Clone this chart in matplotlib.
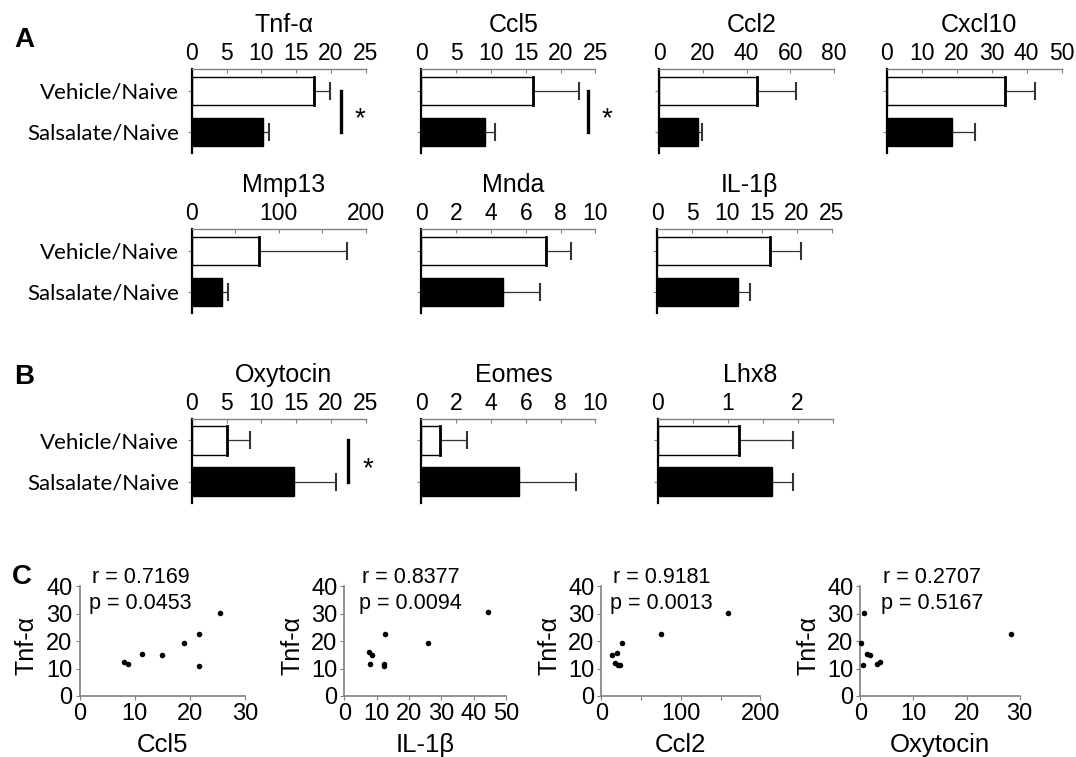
import matplotlib
matplotlib.use("Agg")
import matplotlib.pyplot as plt

# =========================
# DATA
# =========================
GENES = ["Tnf-α", "Ccl5", "Ccl2", "Cxcl10", "Mmp13", "Mnda", "IL-1β",
         "Oxytocin", "Eomes", "Lhx8"]
GROUPS = ["Vehicle/Naive", "Salsalate/Naive"]

VEHICLE_MEAN = [17.5, 16.1, 44.8, 33.9, 77.8, 7.18, 16.2, 5.0, 1.06, 1.16]
VEHICLE_ERR = [2.3, 6.6, 17.7, 8.6, 100.2, 1.43, 4.4, 3.4, 1.54, 0.78]
SALSALATE_MEAN = [10.2, 9.1, 17.7, 18.6, 35.2, 4.68, 11.5, 14.75, 5.63, 1.64]
SALSALATE_ERR = [0.9, 1.5, 2.1, 6.6, 6.9, 2.14, 1.8, 6.05, 3.23, 0.30]

X_MAX = [25, 25, 80, 50, 200, 10, 25, 25, 10, 2.5]
X_MAJOR = [[0, 5, 10, 15, 20, 25], [0, 5, 10, 15, 20, 25], [0, 20, 40, 60, 80],
           [0, 10, 20, 30, 40, 50], [0, 100, 200], [0, 2, 4, 6, 8, 10],
           [0, 5, 10, 15, 20, 25], [0, 5, 10, 15, 20, 25], [0, 2, 4, 6, 8, 10],
           [0, 1, 2]]
X_MINOR = [[], [], [], [], [50, 150], [], [], [], [], [0.5, 1.5, 2.5]]

# significance marks: gene, x of bracket, x of asterisk
SIG_GENES = ["Tnf-α", "Ccl5", "Oxytocin"]
SIG_LINE_X = [21.4, 24.0, 22.5]
SIG_STAR_X = [24.1, 26.7, 25.3]

SCATTER_XLABELS = ["Ccl5", "IL-1β", "Ccl2", "Oxytocin"]
SCATTER_R = ["0.7169", "0.8377", "0.9181", "0.2707"]
SCATTER_P = ["0.0453", "0.0094", "0.0013", "0.5167"]
SCATTER_XMAX = [30, 50, 200, 30]
SCATTER_XTICKS = [[0, 10, 20, 30], [0, 10, 20, 30, 40, 50], [0, 100, 200], [0, 10, 20, 30]]
SCATTER_XMINOR = [[], [], [50, 150], []]

CCL5_X = [25.4, 21.7, 18.9, 11.3, 15.0, 8.1, 8.8, 21.6]
CCL5_TNF = [30.3, 22.7, 19.3, 15.5, 14.9, 12.4, 11.5, 11.0]
IL1B_X = [44.5, 12.7, 25.9, 7.7, 8.5, 12.2, 7.9, 12.2]
IL1B_TNF = [30.5, 22.7, 19.3, 15.9, 15.1, 11.7, 11.6, 11.0]
CCL2_X = [159.7, 74.5, 25.5, 19.9, 13.9, 17.7, 20.8, 22.9]
CCL2_TNF = [30.2, 22.6, 19.3, 15.6, 15.0, 12.1, 11.4, 11.2]
OXY_X = [0.7, 28.4, 0.2, 1.3, 1.75, 3.75, 3.2, 0.45]
OXY_TNF = [30.2, 22.6, 19.3, 15.5, 14.9, 12.4, 11.6, 11.3]

SCATTER_X = [CCL5_X, IL1B_X, CCL2_X, OXY_X]
SCATTER_Y = [CCL5_TNF, IL1B_TNF, CCL2_TNF, OXY_TNF]

# =========================
# LAYOUT (pixel boxes: left, top, width, height)
# =========================
W, H = 1076, 757
plt.rcParams["font.family"] = ["Liberation Sans", "DejaVu Sans"]

BAR_BOXES = [
    (191.7, 69.3, 174, 84), (421.4, 69.3, 174, 84), (659.0, 69.3, 175, 84), (886.6, 69.3, 175, 84),
    (191.7, 229.3, 174, 84), (421.4, 229.3, 174, 84), (657.0, 229.3, 175, 84),
    (191.7, 419.0, 174, 84), (421.4, 419.0, 174, 84), (657.5, 419.0, 175, 84),
]
SCATTER_BOXES = [(79.5, 586.4, 165.5, 109.6), (344.4, 586.4, 161.5, 109.6),
                 (601.3, 586.4, 159.0, 109.6), (860.2, 586.4, 159.5, 109.6)]
SCATTER_TEXT_X = [0.37, 0.41, 0.38, 0.45]

FIG = plt.figure(figsize=(W / 100, H / 100), dpi=100)


def PX_AXES(BOX):
    L, T, BW, BH = BOX
    return FIG.add_axes([L / W, 1 - (T + BH) / H, BW / W, BH / H])


# =========================
# BAR PANELS (A, B)
# =========================
for I, GENE in enumerate(GENES):
    AX = PX_AXES(BAR_BOXES[I])
    VALS = [VEHICLE_MEAN[I], SALSALATE_MEAN[I]]
    ERRS = [VEHICLE_ERR[I], SALSALATE_ERR[I]]
    AX.barh([0, 1], VALS, height=0.69, color=["white", "black"],
            edgecolor="black", linewidth=1.0, zorder=2)
    AX.plot([VALS[0], VALS[0]], [-0.345, 0.345], color="black", lw=2.0, zorder=3)
    AX.errorbar(VALS, [0, 1], xerr=[[0, 0], ERRS], fmt="none", ecolor="#333333",
                elinewidth=0.9, capsize=6.5, capthick=1.5, zorder=1)
    AX.set_xlim(0, X_MAX[I])
    AX.set_ylim(1.52, -0.52)

    AX.xaxis.tick_top()
    AX.set_xticks(X_MAJOR[I])
    AX.set_xticks(X_MINOR[I], minor=True)
    AX.set_xticklabels([f"{V:g}" for V in X_MAJOR[I]])
    AX.tick_params(axis="x", which="both", direction="in", length=3, width=0.8,
                   color="#808080", pad=3, labelsize=16.5)
    AX.set_yticks([0, 1])
    if I in (0, 4, 7):
        AX.set_yticklabels(GROUPS, fontsize=16, family=["Lato", "DejaVu Sans"])
    else:
        AX.set_yticklabels([])
    AX.tick_params(axis="y", direction="out", length=3, width=0.8,
                   color="#808080", pad=6)

    for S in ["right", "bottom"]:
        AX.spines[S].set_visible(False)
    AX.spines["top"].set_color("#808080")
    AX.spines["top"].set_linewidth(1.0)
    AX.spines["left"].set_color("black")
    AX.spines["left"].set_linewidth(1.6)

    AX.text(0.53, 1 + 37.5 / 84, GENE, transform=AX.transAxes,
            ha="center", va="baseline", fontsize=18)

    if GENE in SIG_GENES:
        K = SIG_GENES.index(GENE)
        AX.plot([SIG_LINE_X[K], SIG_LINE_X[K]], [0, 1], color="black",
                lw=2.4, clip_on=False)
        AX.text(SIG_STAR_X[K], 0.86, "*", ha="center", va="baseline",
                fontsize=20, clip_on=False)

# =========================
# SCATTER PANELS (C)
# =========================
for I, LBL in enumerate(SCATTER_XLABELS):
    AX = PX_AXES(SCATTER_BOXES[I])
    AX.scatter(SCATTER_X[I], SCATTER_Y[I], s=16, color="black", zorder=3,
               clip_on=False, linewidths=0)
    AX.set_xlim(0, SCATTER_XMAX[I])
    AX.set_ylim(0, 40)
    AX.set_xticks(SCATTER_XTICKS[I])
    AX.set_xticks(SCATTER_XMINOR[I], minor=True)
    AX.set_yticks([0, 10, 20, 30, 40])
    AX.tick_params(axis="both", which="both", direction="out", length=3,
                   width=0.8, color="#808080", labelsize=17, pad=2)
    for S in ["right", "top"]:
        AX.spines[S].set_visible(False)
    for S in ["left", "bottom"]:
        AX.spines[S].set_color("#808080")
        AX.spines[S].set_linewidth(1.2)

    AX.text(0.5, -0.447, LBL, transform=AX.transAxes, ha="center",
            va="center", fontsize=18.5)
    AX.text(-0.323, 0.46, "Tnf-α", transform=AX.transAxes, ha="center",
            va="center", rotation=90, fontsize=18)
    AX.text(SCATTER_TEXT_X[I], 1.077, f"r = {SCATTER_R[I]}", transform=AX.transAxes,
            ha="center", va="center", fontsize=15.5)
    AX.text(SCATTER_TEXT_X[I], 0.84, f"p = {SCATTER_P[I]}", transform=AX.transAxes,
            ha="center", va="center", fontsize=15.5)

# =========================
# PANEL LETTERS
# =========================
for LETTER, X, Y in [("A", 24, 40), ("B", 24, 377), ("C", 22, 577)]:
    FIG.text(X / W, 1 - Y / H, LETTER, ha="center", va="center",
             fontsize=20, fontweight="bold")

FIG.savefig("out.png", dpi=100)
